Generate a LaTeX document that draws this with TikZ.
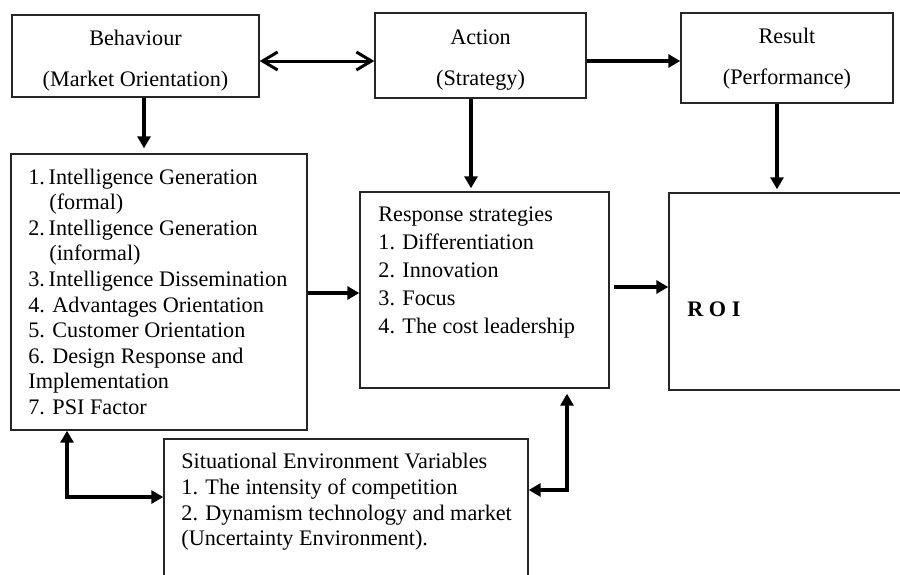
\documentclass[tikz,border=0pt]{standalone}
\usepackage{fontspec}
\setmainfont{Liberation Serif}
\usetikzlibrary{arrows.meta,calc}
\begin{document}
\begin{tikzpicture}[x=0.5pt,y=-0.5pt,
  box/.style={draw=black!85, line width=0.7pt, inner sep=0pt},
  ttl/.style={inner sep=0pt, anchor=north, align=center, font=\fontsize{11.1}{20.5}\selectfont},
  txt/.style={inner sep=0pt, anchor=north west, align=left},
  arr/.style={line width=1.6pt, -{Triangle[length=6pt,width=6.5pt]}},
  darr/.style={line width=1.6pt, {Triangle[length=6pt,width=6.5pt]}-{Triangle[length=6pt,width=6.5pt]}},
  barb/.style={line width=1.5pt, {Straight Barb[length=7.5pt,width=9pt]}-{Straight Barb[length=7.5pt,width=9pt]}}]

\useasboundingbox (0,0) rectangle (900,574);
\clip (0,0) rectangle (900,574);

% boxes
\node[box, minimum width=123.5pt, minimum height=41pt]   (beh)  at (135.5,56)  {};
\node[box, minimum width=105.5pt, minimum height=42.5pt] (act)  at (480.5,55.5) {};
\node[box, minimum width=106pt,   minimum height=45pt]   (res)  at (787,58)    {};
\node[box, minimum width=148pt,   minimum height=138pt]  (list) at (159,292)   {};
\node[box, minimum width=124.5pt, minimum height=98pt]   (resp) at (484.5,290) {};
\node[box, minimum width=123pt,   minimum height=98.5pt] (roi)  at (792,291.5) {};
\node[box, minimum width=182pt,   minimum height=80.5pt] (sit)  at (346,519.5) {};

% texts
\node[ttl] (behT) at (135.5,30) {Behaviour\\(Market Orientation)};
\node[ttl] (actT) at (480.5,29) {Action\\(Strategy)};
\node[ttl] (resT) at (787,27.5) {Result\\(Performance)};

\node[txt, font=\fontsize{11.1}{12.78}\selectfont] (listT) at (28,168.5) {%
1.\,Intelligence Generation\\
\hspace*{10.5pt}(formal)\\
2.\,Intelligence Generation\\
\hspace*{10.5pt}(informal)\\
3.\,Intelligence Dissemination\\
4. Advantages Orientation\\
5. Customer Orientation\\
6. Design Response and\\
Implementation\\
7. PSI Factor};

\node[txt, font=\fontsize{11.1}{14}\selectfont] (respT) at (378,206) {%
Response strategies\\
1. Differentiation\\
2. Innovation\\
3. Focus\\
4. The cost leadership};

\node[txt, font=\fontsize{11.1}{12.83}\selectfont] (sitT) at (181,453) {%
Situational Environment Variables\\
1. The intensity of competition\\
2. Dynamism technology and market\\
(Uncertainty Environment).};

\node[inner sep=0pt, anchor=base west, font=\fontsize{11.1}{13}\selectfont\bfseries] (roiT) at (687,316) {R O I};

% connectors
\draw[barb] ([yshift=-2.5pt]beh.east) -- ([yshift=-2.5pt]beh.east -| act.west);
\draw[arr] ([yshift=-2.75pt]act.east) -- ([yshift=-2.75pt]act.east -| res.west);
\draw[arr, shorten >=2.5pt] ([xshift=4.25pt]beh.south) -- ([xshift=4.25pt]beh.south |- list.north);
\draw[arr, shorten >=1.5pt] ([xshift=-4.75pt]act.south) -- ([xshift=-4.75pt]act.south |- resp.north);
\draw[arr, shorten >=1.5pt] ([xshift=-5pt]res.south) -- ([xshift=-5pt]res.south |- roi.north);
\draw[arr] ([yshift=-0.5pt]list.east) -- ([yshift=-0.5pt]list.east -| resp.west);
\draw[arr] ([xshift=2pt,yshift=1.5pt]resp.east) -- ([yshift=1.5pt]resp.east -| roi.west);
\draw[darr] ([xshift=-46pt]list.south) |- ([yshift=11.25pt]sit.west);
\draw[darr, shorten >=2.5pt] ([yshift=14.75pt]sit.east) -| ([xshift=41.25pt]resp.south);
\end{tikzpicture}
\end{document}
